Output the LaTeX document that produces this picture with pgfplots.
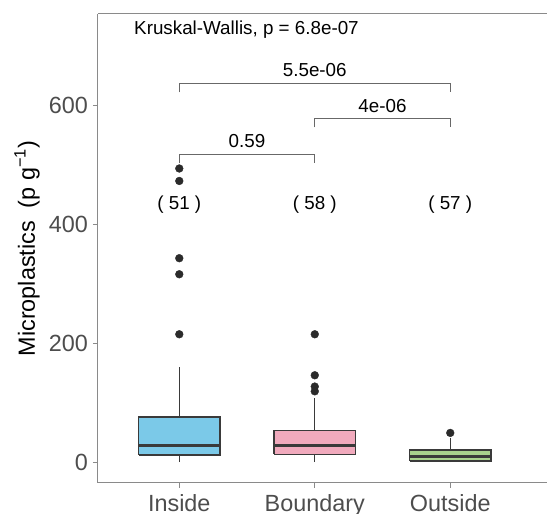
\documentclass[border=0pt]{standalone}
\usepackage{pgfplots}
\pgfplotsset{compat=1.18}
\usepackage{fontspec}
\setmainfont{Liberation Sans}
\definecolor{fillA}{HTML}{7BC9E8}
\definecolor{fillB}{HTML}{F1AABD}
\definecolor{fillC}{HTML}{A9D18E}
\definecolor{edge}{HTML}{3A3A3A}
\definecolor{ticktext}{HTML}{4D4D4D}
\definecolor{framec}{HTML}{8A8A8A}
\definecolor{dotc}{HTML}{2B2B2B}
\begin{document}
\begin{tikzpicture}
\begin{axis}[
  at={(0,0)}, anchor=south west,
  scale only axis, width=449pt, height=469pt,
  xmin=0.4, xmax=3.714, ymin=-35.3, ymax=754,
  clip=false,
  axis y line*=left, axis x line*=bottom,
  axis line style={draw=framec, line width=1pt, -},
  xtick={1,2,3}, xticklabels={Inside,Boundary,Outside},
  ytick={0,200,400,600},
  tick style={draw=framec, line width=1pt},
  major tick length=5pt,
  tick align=outside,
  /pgf/number format/assume math mode=true,
  ticklabel style={font=\fontsize{23.4}{28}\selectfont, text=ticktext},
  yticklabel style={inner sep=0pt, xshift=-5pt},
  xticklabel style={inner sep=0pt, yshift=-6pt},
  ylabel={Microplastics\ \ (p g\textsuperscript{−1})},
  ylabel style={font=\fontsize{23.4}{28}\selectfont, at={(axis description cs:-0.158,0.5)}, anchor=center},
  whisk/.style={edge, line width=1.4pt},
  boxs/.style={draw=edge, line width=1.4pt},
  med/.style={edge, line width=3pt},
]
\draw[framec, line width=1pt] (rel axis cs:0,1) -- (rel axis cs:1,1);

% Inside: lower whisker 0, Q1 12, median 27, Q3 76, upper whisker 160
\addplot[whisk] coordinates {(1,0)(1,12)};
\addplot[whisk] coordinates {(1,76)(1,160)};
\addplot[boxs, fill=fillA] coordinates {(0.7,12)(1.3,12)(1.3,76)(0.7,76)(0.7,12)};
\addplot[med] coordinates {(0.7,27)(1.3,27)};
% Boundary: 0, 13, 28, 53, 107
\addplot[whisk] coordinates {(2,0)(2,13)};
\addplot[whisk] coordinates {(2,53)(2,107)};
\addplot[boxs, fill=fillB] coordinates {(1.7,13)(2.3,13)(2.3,53)(1.7,53)(1.7,13)};
\addplot[med] coordinates {(1.7,28)(2.3,28)};
% Outside: 0, 2, 9, 20, 41
\addplot[whisk] coordinates {(3,0)(3,2)};
\addplot[whisk] coordinates {(3,20)(3,41)};
\addplot[boxs, fill=fillC] coordinates {(2.7,2)(3.3,2)(3.3,20)(2.7,20)(2.7,2)};
\addplot[med] coordinates {(2.7,9)(3.3,9)};

\addplot[only marks, mark=*, mark size=3.9pt, mark options={fill=dotc, draw=dotc}] coordinates {(1,215)(1,316)(1,343)(1,473)(1,494)(2,215)(2,146)(2,127)(2,119)(3,49)};

\addplot[framec!75!black, line width=1.2pt] coordinates {(1,622)(1,637)(3,637)(3,622)};
\addplot[framec!75!black, line width=1.2pt] coordinates {(2,563)(2,578)(3,578)(3,563)};
\addplot[framec!75!black, line width=1.2pt] coordinates {(1,503)(1,518)(2,518)(2,503)};

\node[font=\fontsize{18.8}{22}\selectfont, anchor=base] at (axis cs:2,648) {5.5e-06};
\node[font=\fontsize{18.8}{22}\selectfont, anchor=base] at (axis cs:2.5,589) {4e-06};
\node[font=\fontsize{18.8}{22}\selectfont, anchor=base] at (axis cs:1.5,529) {0.59};
\node[font=\fontsize{18.8}{22}\selectfont, anchor=base] at (axis cs:1,425) {( 51 )};
\node[font=\fontsize{18.8}{22}\selectfont, anchor=base] at (axis cs:2,425) {( 58 )};
\node[font=\fontsize{18.8}{22}\selectfont, anchor=base] at (axis cs:3,425) {( 57 )};
\node[font=\fontsize{18.8}{22}\selectfont, anchor=base west, inner sep=0pt] at (axis cs:0.666,720) {Kruskal-Wallis, p = 6.8e-07};
\end{axis}
\pgfresetboundingbox
\path[use as bounding box] (-98pt,-31pt) rectangle (449pt,483pt);
\end{tikzpicture}
\end{document}
